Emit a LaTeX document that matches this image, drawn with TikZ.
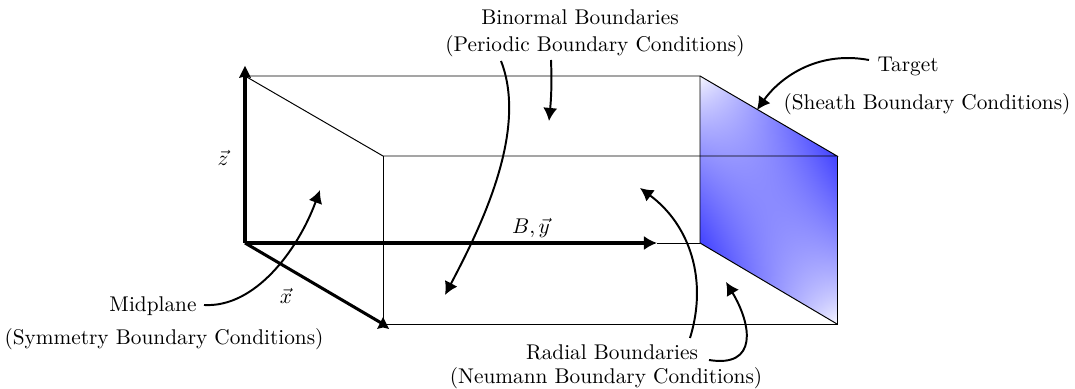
\documentclass[tikz,border=0pt]{standalone}
\usetikzlibrary{arrows.meta}
\pgfdeclarefunctionalshading{tgshade}{\pgfpoint{0bp}{0bp}}{\pgfpoint{100bp}{100bp}}{}{
  75 exch sub 50 div 248 mul
  exch 25 sub 50 div
  dup 80 mul 3 -1 roll exch sub 168 div
  2 copy mul 2 mul
  3 1 roll add exch sub
  abs 0.7 exp
  0.74 mul 1 exch sub dup 1
}
\tikzset{
  edge/.style={line width=0.45pt,black},
  axisline/.style={line width=1.4pt,black},
  axistip/.style={line width=1.4pt,black,-{Latex[length=6pt,width=6.5pt]}},
  pointer/.style={line width=0.9pt,black,-{Latex[length=6pt,width=6.5pt]}},
  lab/.style={anchor=base,inner sep=0pt,outer sep=0pt,scale=0.98},
  tipmark/.style={fill=black,draw=none},
}
\begin{document}
\begin{tikzpicture}[x=0.46pt,y=-0.46pt]
\useasboundingbox (0,0) rectangle (1075,389);
% corners
\coordinate (blt) at (245,76);
\coordinate (blb) at (245,243);
\coordinate (flt) at (383,156);
\coordinate (flb) at (383,324);
\coordinate (brt) at (700,76);
\coordinate (brb) at (700,243);
\coordinate (frt) at (837,156);
\coordinate (frb) at (837,324);
\coordinate (yend) at (657,243);
% target
\shade[shading=tgshade]
  (brt) -- (frt) -- (frb) -- (brb) -- cycle;
% box
\draw[edge] (blt) -- (brt) -- (frt) -- (flt) -- cycle;
\draw[edge] (flt) -- (flb) -- (frb) -- (frt);
\draw[edge] (brt) -- (brb) -- (frb);
\draw[edge] (yend) -- (brb);
% axes
\draw[axisline] (blb) -- (blt);
\draw[axistip] (blb) -- (yend);
\draw[axisline] (blb) -- (flb);
\fill[tipmark] (245,66) -- (251,78) -- (245,76.5) -- (239,78) -- cycle;
\fill[tipmark] (383,317) -- (389,329) -- (383,327.5) -- (377,329) -- cycle;
% labels
\node[lab] (bnA) at (580,25) {Binormal Boundaries};
\node[lab] (bnB) at (595,52) {(Periodic Boundary Conditions)};
\node[lab] (tgA) at (908,72) {Target};
\node[lab] (tgB) at (927,110) {(Sheath Boundary Conditions)};
\node[lab] (mpA) at (153,312) {Midplane};
\node[lab] (mpB) at (164,345) {(Symmetry Boundary Conditions)};
\node[lab] (rdA) at (612,360) {Radial Boundaries};
\node[lab] (rdB) at (606,384) {(Neumann Boundary Conditions)};
\node[lab] (ly) at (531,234) {$B,\vec{y}$};
\node[lab] (lz) at (223,166) {$\vec{z}$};
\node[lab] (lx) at (286,304) {$\vec{x}$};
% pointer ends
\coordinate (p1s) at (204,305);
\coordinate (p1e) at (320,190);
\coordinate (p2s) at (501,61);
\coordinate (p2e) at (445,295);
\coordinate (p3s) at (551,60);
\coordinate (p3e) at (549,121);
\coordinate (p4s) at (869,60);
\coordinate (p4e) at (757,110);
\coordinate (p5s) at (690,338);
\coordinate (p5e) at (640,188);
\coordinate (p6s) at (709,360);
\coordinate (p6e) at (726,282);
% pointers
\draw[pointer] (p1s) .. controls (255,308) and (298,250) .. (p1e);
\draw[pointer] (p2s) .. controls (528,130) and (482,225) .. (p2e);
\draw[pointer] (p3s) .. controls (552,85) and (551,100) .. (p3e);
\draw[pointer] (p4s) .. controls (815,50) and (778,80) .. (p4e);
\draw[pointer] (p5s) .. controls (708,280) and (690,225) .. (p5e);
\draw[pointer] (p6s) .. controls (758,368) and (752,325) .. (p6e);
\end{tikzpicture}
\end{document}
